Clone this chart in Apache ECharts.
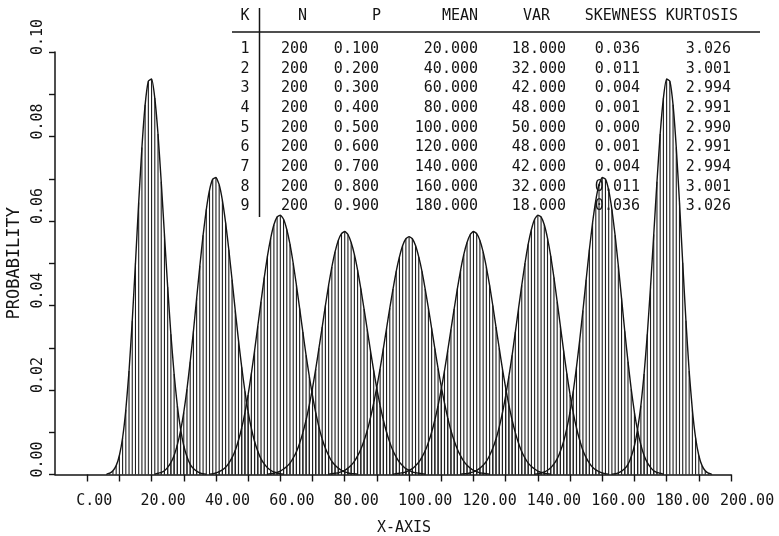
<!DOCTYPE html>
<html>
<head>
<meta charset="utf-8">
<title>Binomial distributions, N = 200</title>
<script src="https://cdn.jsdelivr.net/npm/echarts@6/dist/echarts.min.js"></script>
<style>
  html, body { margin: 0; padding: 0; background: #fff; }
  #chart { width: 779px; height: 536px; }
</style>
</head>
<body>
<div id="chart"></div>
<script>
// Probability mass of B(200, p) for p = 0.1 ... 0.9, one value per integer x,
// starting at firstX[k].
const firstX = [6, 21, 38, 56, 75, 95, 116, 139, 163];

const probK1 = [0.0001,0.0003,0.0009,0.0021,0.0045,0.0087,0.0153,0.0245,0.0364,0.0501,0.0644,0.0774,0.0875,0.0931,0.0936,0.0891,0.0806,0.0693,0.0568,0.0444,0.0332,0.0238,0.0163,0.0108,0.0068,0.0042,0.0024,0.0014,0.0008,0.0004,0.0002,0.0001];
const probK2 = [0.0001,0.0003,0.0005,0.0009,0.0017,0.0028,0.0045,0.0070,0.0103,0.0147,0.0202,0.0267,0.0339,0.0417,0.0494,0.0566,0.0627,0.0673,0.0699,0.0703,0.0686,0.0649,0.0596,0.0532,0.0461,0.0388,0.0318,0.0254,0.0197,0.0148,0.0109,0.0078,0.0055,0.0037,0.0025,0.0016,0.0010,0.0006,0.0004,0.0002,0.0001];
const probK3 = [0.0001,0.0002,0.0004,0.0007,0.0011,0.0017,0.0027,0.0040,0.0057,0.0081,0.0110,0.0146,0.0189,0.0239,0.0293,0.0351,0.0409,0.0466,0.0517,0.0559,0.0591,0.0610,0.0614,0.0604,0.0580,0.0545,0.0500,0.0448,0.0393,0.0337,0.0282,0.0232,0.0186,0.0146,0.0112,0.0084,0.0062,0.0045,0.0031,0.0022,0.0015,0.0010,0.0006,0.0004,0.0002,0.0002,0.0001];
const probK4 = [0.0001,0.0002,0.0003,0.0005,0.0008,0.0013,0.0019,0.0027,0.0039,0.0054,0.0074,0.0099,0.0129,0.0164,0.0205,0.0250,0.0299,0.0349,0.0400,0.0448,0.0491,0.0527,0.0554,0.0570,0.0575,0.0568,0.0549,0.0521,0.0484,0.0440,0.0392,0.0343,0.0293,0.0246,0.0202,0.0163,0.0129,0.0100,0.0076,0.0056,0.0041,0.0029,0.0021,0.0014,0.0010,0.0006,0.0004,0.0003,0.0002,0.0001];
const probK5 = [0.0001,0.0002,0.0003,0.0004,0.0007,0.0010,0.0015,0.0022,0.0031,0.0044,0.0060,0.0080,0.0104,0.0134,0.0169,0.0208,0.0251,0.0298,0.0346,0.0394,0.0439,0.0481,0.0515,0.0542,0.0558,0.0563,0.0558,0.0542,0.0515,0.0481,0.0439,0.0394,0.0346,0.0298,0.0251,0.0208,0.0169,0.0134,0.0104,0.0080,0.0060,0.0044,0.0031,0.0022,0.0015,0.0010,0.0007,0.0004,0.0003,0.0002,0.0001];
const probK6 = [0.0001,0.0002,0.0003,0.0004,0.0006,0.0010,0.0014,0.0021,0.0029,0.0041,0.0056,0.0076,0.0100,0.0129,0.0163,0.0202,0.0246,0.0293,0.0343,0.0392,0.0440,0.0484,0.0521,0.0549,0.0568,0.0575,0.0570,0.0554,0.0527,0.0491,0.0448,0.0400,0.0349,0.0299,0.0250,0.0205,0.0164,0.0129,0.0099,0.0074,0.0054,0.0039,0.0027,0.0019,0.0013,0.0008,0.0005,0.0003,0.0002,0.0001];
const probK7 = [0.0001,0.0002,0.0002,0.0004,0.0006,0.0010,0.0015,0.0022,0.0031,0.0045,0.0062,0.0084,0.0112,0.0146,0.0186,0.0232,0.0282,0.0337,0.0393,0.0448,0.0500,0.0545,0.0580,0.0604,0.0614,0.0610,0.0591,0.0559,0.0517,0.0466,0.0409,0.0351,0.0293,0.0239,0.0189,0.0146,0.0110,0.0081,0.0057,0.0040,0.0027,0.0017,0.0011,0.0007,0.0004,0.0002,0.0001];
const probK8 = [0.0001,0.0002,0.0004,0.0006,0.0010,0.0016,0.0025,0.0037,0.0055,0.0078,0.0109,0.0148,0.0197,0.0254,0.0318,0.0388,0.0461,0.0532,0.0596,0.0649,0.0686,0.0703,0.0699,0.0673,0.0627,0.0566,0.0494,0.0417,0.0339,0.0267,0.0202,0.0147,0.0103,0.0070,0.0045,0.0028,0.0017,0.0009,0.0005,0.0003,0.0001];
const probK9 = [0.0001,0.0002,0.0004,0.0008,0.0014,0.0024,0.0042,0.0068,0.0108,0.0163,0.0238,0.0332,0.0444,0.0568,0.0693,0.0806,0.0891,0.0936,0.0931,0.0875,0.0774,0.0644,0.0501,0.0364,0.0245,0.0153,0.0087,0.0045,0.0021,0.0009,0.0003,0.0001];

// Axis ticks and their labels
const xTickValues  = [0,10,20,30,40,50,60,70,80,90,100,110,120,130,140,150,160,170,180,190,200];
const xLabelValues = [0,20,40,60,80,100,120,140,160,180,200];
const xTickLabels  = ['C.00','20.00','40.00','60.00','80.00','100.00','120.00','140.00','160.00','180.00','200.00'];
const yTickValues  = [0,0.01,0.02,0.03,0.04,0.05,0.06,0.07,0.08,0.09,0.10];
const yLabelValues = [0,0.02,0.04,0.06,0.08,0.10];
const yTickLabels  = ['0.00','0.02','0.04','0.06','0.08','0.10'];

// Parameter table
const tableHeaders = ['K','N','P','MEAN','VAR','SKEWNESS','KURTOSIS'];
const kValues    = [1,2,3,4,5,6,7,8,9];
const nValues    = [200,200,200,200,200,200,200,200,200];
const pValues    = [0.1,0.2,0.3,0.4,0.5,0.6,0.7,0.8,0.9];
const meanValues = [20,40,60,80,100,120,140,160,180];
const varValues  = [18,32,42,48,50,48,42,32,18];
const skewValues = [0.036,0.011,0.004,0.001,0.000,0.001,0.004,0.011,0.036];
const kurtValues = [3.026,3.001,2.994,2.991,2.990,2.991,2.994,3.001,3.026];

const INK = '#141414';
const MONO = '"DejaVu Sans Mono", "Liberation Mono", monospace';

const curves = [probK1, probK2, probK3, probK4, probK5, probK6, probK7, probK8, probK9];
const series = [];
curves.forEach((vals, i) => {
  const pts = vals.map((y, j) => [firstX[i] + j, y]);
  // one vertical stroke per integer value (hatching)
  series.push({
    type: 'bar', data: pts, barWidth: 1.1, barGap: '-100%',
    itemStyle: { color: '#1e1e1e' }, silent: true, z: 2
  });
  // outline of the distribution
  series.push({
    type: 'line', data: pts, symbol: 'none', smooth: 0.15,
    lineStyle: { color: INK, width: 1.4 }, silent: true, z: 3
  });
});

// Table drawn as graphic elements
const colFmt = [
  v => String(v), v => String(v), v => v.toFixed(3), v => v.toFixed(3),
  v => v.toFixed(3), v => v.toFixed(3), v => v.toFixed(3)
];
const colData = [kValues, nValues, pValues, meanValues, varValues, skewValues, kurtValues];
// [header x, header align, value x, value align]
const colPos = [
  [245, 'center', 245, 'center'],
  [307, 'right', 308, 'right'],
  [381, 'right', 379, 'right'],
  [478, 'right', 478, 'right'],
  [550, 'right', 566, 'right'],
  [657, 'right', 640, 'right'],
  [738, 'right', 731, 'right']
];
const tableFont = '15px ' + MONO;
const graphics = [];
tableHeaders.forEach((h, c) => {
  graphics.push({
    type: 'text', silent: true,
    style: { text: h, x: colPos[c][0], y: 16, align: colPos[c][1], verticalAlign: 'middle', font: tableFont, fill: INK }
  });
  colData[c].forEach((v, r) => {
    graphics.push({
      type: 'text', silent: true,
      style: { text: colFmt[c](v), x: colPos[c][2], y: 49 + r * 19.7, align: colPos[c][3], verticalAlign: 'middle', font: tableFont, fill: INK }
    });
  });
});
graphics.push({ type: 'line', silent: true, shape: { x1: 232, y1: 32, x2: 760, y2: 32 }, style: { stroke: INK, lineWidth: 1.5 } });
graphics.push({ type: 'line', silent: true, shape: { x1: 259.5, y1: 8, x2: 259.5, y2: 217 }, style: { stroke: INK, lineWidth: 1.5 } });

const chart = echarts.init(document.getElementById('chart'), null, { renderer: 'canvas' });
chart.setOption({
  animation: false,
  backgroundColor: '#fff',
  grid: { left: 55, right: 48, top: 52, bottom: 61.5, outerBoundsMode: 'none' },
  xAxis: {
    type: 'value', min: -10, max: 200, interval: 10,
    splitLine: { show: false },
    axisLine: { show: true, onZero: false, lineStyle: { color: INK, width: 1.5 } },
    axisTick: { show: true, customValues: xTickValues, length: 7, lineStyle: { color: INK, width: 1.4 } },
    axisLabel: {
      customValues: xLabelValues,
      formatter: v => { const i = xLabelValues.indexOf(Math.round(v)); return i >= 0 ? xTickLabels[i] : ''; },
      align: 'left', padding: [0, 0, 0, -11], margin: 19,
      color: INK, fontFamily: MONO, fontSize: 15
    },
    name: 'X-AXIS', nameLocation: 'middle', nameGap: 46,
    nameTextStyle: { color: INK, fontFamily: MONO, fontSize: 15, padding: [0, 0, 0, 22] }
  },
  yAxis: {
    type: 'value', min: 0, max: 0.1, interval: 0.01,
    splitLine: { show: false },
    axisLine: { show: true, onZero: false, lineStyle: { color: INK, width: 1.5 } },
    axisTick: { show: true, customValues: yTickValues, length: 6, lineStyle: { color: INK, width: 1.4 } },
    axisLabel: {
      customValues: yLabelValues,
      formatter: v => { const i = yLabelValues.findIndex(t => Math.abs(t - v) < 1e-6); return i >= 0 ? yTickLabels[i] : ''; },
      rotate: 90, margin: 9, padding: [0, 0, 0, 30],
      color: INK, fontFamily: MONO, fontSize: 15
    },
    name: 'PROBABILITY', nameLocation: 'middle', nameGap: 29,
    nameTextStyle: { color: INK, fontFamily: MONO, fontSize: 17 }
  },
  graphic: graphics,
  series: series
});
</script>
</body>
</html>
